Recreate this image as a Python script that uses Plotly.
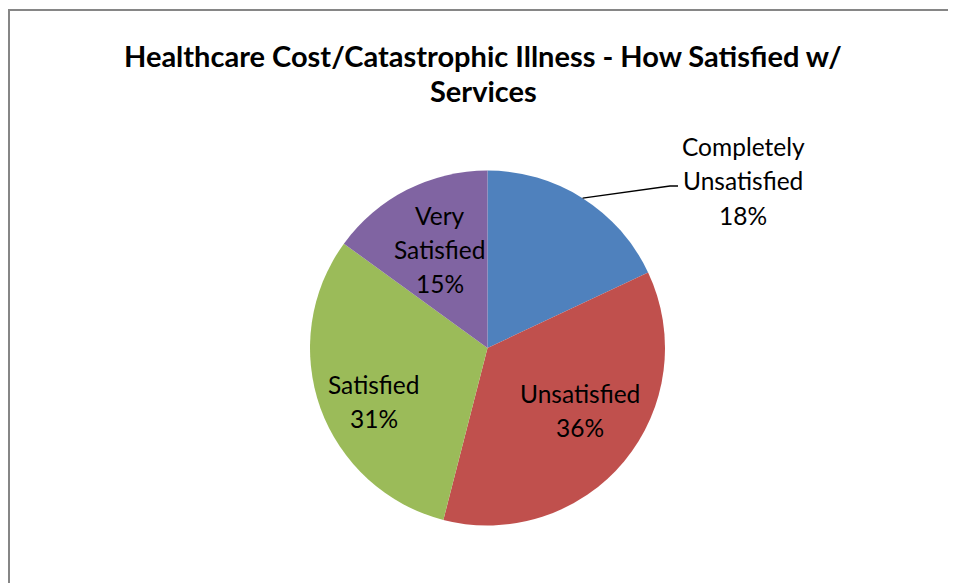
import math
import plotly.graph_objects as go

# ---- data ----
labels = ["Completely Unsatisfied", "Unsatisfied", "Satisfied", "Very Satisfied"]
values = [18, 36, 31, 15]
colors = ["#4F81BD", "#C0504D", "#9BBB59", "#8064A2"]
title_lines = ["Healthcare Cost/Catastrophic Illness - How Satisfied w/", "Services"]

# the page body has an 8px margin, so the figure is placed at (8, 8)
OFF = 8
W, H = 958, 583 - OFF
CX, CY, R = 487.5, 348.0, 177.5  # pie centre / radius in page px


def px(x):
    return (x - OFF) / W


def py(y):
    return 1 - (y - OFF) / H


fig = go.Figure(go.Pie(
    labels=labels, values=values, sort=False, direction="clockwise", rotation=0,
    marker=dict(colors=colors, line=dict(width=0)),
    textinfo="none", hoverinfo="label+percent", showlegend=False,
    domain=dict(x=[px(CX - R), px(CX + R)], y=[py(CY + R), py(CY - R)]),
))

total = sum(values)
pct = [f"{round(v * 100 / total)}%" for v in values]

FONT = "Lato, Calibri, sans-serif"
# label centres (page px)
label_pos = [(743, 181), (580, 410), (374, 401), (440, 249)]
LINE = 34
annotations = []
for lab, p, (lx, ly) in zip(labels, pct, label_pos):
    lines = lab.split(" ") + [p]
    n = len(lines)
    for i, t in enumerate(lines):
        yy = ly + (i - (n - 1) / 2) * LINE
        annotations.append(dict(
            x=px(lx), y=py(yy), xref="paper", yref="paper", text=t, showarrow=False,
            font=dict(family=FONT, size=24.5, color="#000000"),
            xanchor="center", yanchor="middle",
        ))

for i, t in enumerate(title_lines):
    annotations.append(dict(
        x=px(483), y=py(55 + i * 35), xref="paper", yref="paper", text="<b>" + t + "</b>",
        showarrow=False, xanchor="center", yanchor="middle",
        font=dict(family=FONT, size=29, color="#000000"),
    ))

# leader line for first slice, starting at its mid-angle on the rim
mid = (values[0] / 2) / total * 2 * math.pi
sx, sy = CX + R * math.sin(mid), CY - R * math.cos(mid)
shapes = [
    dict(type="path", xref="paper", yref="paper",
         path=f"M {px(sx)} {py(sy)} L {px(670)} {py(186)} L {px(678)} {py(186)}",
         line=dict(color="#000000", width=1.5)),
    # chart border (left and top visible)
    dict(type="path", xref="paper", yref="paper",
         path=f"M {px(9)} 0 L {px(9)} {py(10)} L 1 {py(10)}",
         line=dict(color="#868686", width=2)),
]

fig.update_layout(
    width=W, height=H, margin=dict(l=0, r=0, t=0, b=0),
    paper_bgcolor="white", plot_bgcolor="white",
    annotations=annotations, shapes=shapes,
)

fig.write_html("out.html", post_script="document.documentElement.style.overflow='hidden';")
